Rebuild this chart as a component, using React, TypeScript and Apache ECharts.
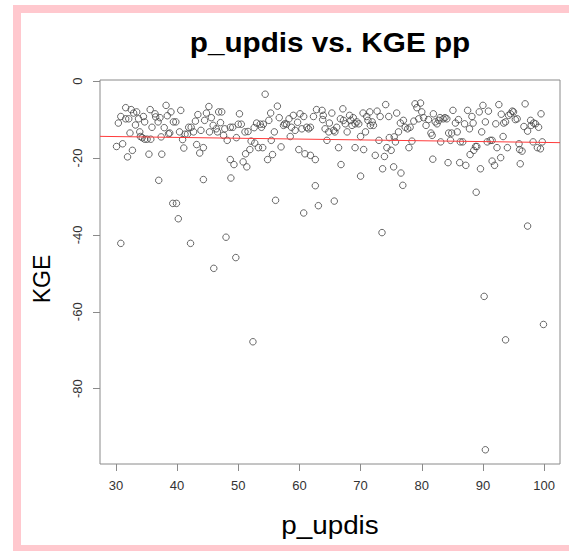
import React, { useEffect, useRef } from "react";
import * as echarts from "echarts";

// Axis ticks
const xTicks = [30, 40, 50, 60, 70, 80, 90, 100];
const yTicks = [0, -20, -40, -60, -80];

// Least-squares fit line end points (p_updis, KGE)
const fitLine = [
  [27.4, -14.36],
  [102.6, -16.0],
];

// Gauges with p_updis below ~63
const bandWest = [
  [30.4, -10.9], [30.8, -9.2], [30.1, -17.0], [31.1, -16.3], [31.6, -9.8], [32.1, -9.8], [31.6, -6.9],
  [32.3, -13.5], [31.9, -19.7], [32.7, -18.0], [32.5, -7.4], [32.9, -8.3], [33.4, -8.0], [33.2, -11.4],
  [33.7, -9.8], [33.9, -13.2], [34.0, -14.4], [34.5, -9.2], [34.7, -10.6], [34.3, -14.7], [34.7, -15.1],
  [35.1, -15.1], [35.4, -19.0], [35.6, -7.4], [35.7, -15.1], [35.9, -12.0], [36.4, -8.5], [36.5, -9.3],
  [36.9, -10.6], [37.2, -9.5], [37.4, -14.5], [37.5, -19.0], [37.9, -12.1], [38.2, -6.3], [38.4, -9.0],
  [38.6, -13.7], [38.8, -13.5], [39.0, -8.0], [39.4, -10.6], [39.8, -10.6], [40.4, -13.2], [40.6, -7.6],
  [40.9, -15.2], [41.1, -17.4], [41.3, -13.8], [41.7, -13.8], [41.9, -12.0], [42.3, -12.0], [42.7, -13.2],
  [43.0, -10.4], [43.2, -16.5], [43.4, -8.7], [43.7, -18.7], [43.9, -12.8], [44.3, -17.3], [44.5, -10.2],
  [44.8, -8.3], [45.2, -6.6], [45.3, -13.2], [45.6, -9.5], [45.9, -11.5], [46.4, -12.4], [46.6, -13.2],
  [46.8, -8.0], [47.3, -8.0], [47.1, -10.8], [47.6, -14.1], [47.8, -12.4], [48.2, -15.4], [48.7, -12.0],
  [48.7, -20.4], [49.1, -12.0], [49.3, -21.7], [49.7, -14.7], [50.0, -11.2], [50.2, -8.5], [50.5, -11.2],
  [50.8, -21.0], [51.1, -13.2], [51.2, -18.9], [51.4, -22.3], [51.6, -13.1], [51.9, -17.8], [52.1, -15.6],
  [52.6, -12.1], [52.7, -16.1], [53.0, -10.9], [53.3, -17.3], [53.6, -11.2], [53.8, -12.0], [54.0, -17.3],
  [54.1, -11.2], [54.8, -20.4], [55.0, -10.2], [55.3, -8.3], [55.4, -15.4], [55.6, -19.1], [55.9, -13.2],
  [56.4, -6.5], [56.7, -9.5], [57.0, -17.1], [57.4, -11.5], [57.6, -11.1], [57.9, -11.2], [58.3, -9.8],
  [58.5, -14.4], [58.7, -12.0], [59.0, -8.9], [59.3, -12.8], [59.7, -10.7], [59.9, -17.8], [60.1, -8.5],
  [60.4, -12.4], [60.7, -9.2], [60.9, -18.9], [61.2, -12.0], [61.5, -12.4], [61.8, -19.3], [61.8, -12.0],
  [62.3, -9.2], [62.6, -20.4], [62.8, -7.4],
];

// Gauges with p_updis above ~63
const bandEast = [
  [63.7, -7.6], [63.9, -8.9], [63.8, -10.0], [64.2, -12.4], [64.5, -15.4], [64.9, -10.9], [65.3, -8.3],
  [64.8, -13.2], [65.6, -12.8], [65.8, -13.2], [66.1, -12.0], [66.4, -17.3], [66.8, -21.7], [67.1, -7.2],
  [66.7, -9.8], [67.2, -10.2], [67.5, -11.1], [67.8, -13.2], [68.2, -8.9], [68.4, -10.2], [68.6, -11.5],
  [68.8, -9.5], [69.1, -17.3], [69.1, -11.1], [69.4, -10.6], [69.7, -11.1], [70.0, -14.4], [70.4, -8.3],
  [70.5, -17.8], [70.8, -13.2], [71.0, -9.2], [71.2, -10.2], [71.5, -8.0], [71.6, -11.5], [71.9, -10.6],
  [72.1, -11.5], [72.4, -19.3], [72.7, -7.8], [73.0, -15.4], [73.2, -9.2], [73.6, -22.8], [73.9, -19.6],
  [74.1, -6.1], [74.3, -17.3], [74.6, -9.2], [74.7, -14.7], [75.0, -18.0], [75.4, -22.3], [75.5, -14.5],
  [75.7, -15.8], [75.9, -8.3], [76.2, -13.2], [76.5, -10.9], [76.6, -23.9], [77.0, -10.2], [77.3, -12.0],
  [77.7, -12.4], [77.9, -17.3], [78.1, -12.0], [78.4, -15.6], [78.7, -10.4], [78.9, -5.9], [79.2, -6.9],
  [79.5, -9.8], [79.8, -5.7], [80.0, -8.0], [80.3, -9.5], [80.7, -11.5], [81.1, -10.0], [81.5, -13.5],
  [81.7, -14.1], [81.8, -20.3], [81.9, -8.5], [82.2, -10.6], [82.5, -11.1], [82.8, -10.2], [83.0, -9.5],
  [83.1, -15.8], [83.5, -9.8], [83.8, -9.5], [84.1, -9.8], [84.3, -21.2], [84.4, -13.5], [84.7, -15.4],
  [84.9, -13.5], [85.1, -7.6], [85.5, -10.9], [85.8, -13.2], [86.0, -10.0], [86.2, -21.2], [86.3, -15.8],
  [86.7, -15.8], [87.0, -11.1], [87.2, -21.9], [87.5, -7.6], [87.8, -12.4], [87.9, -19.1], [88.2, -9.2],
  [88.4, -10.9], [88.5, -18.0], [88.8, -17.0], [89.0, -17.0], [89.4, -8.0], [89.6, -22.8], [89.8, -13.2],
  [90.0, -6.3], [90.4, -10.6], [90.7, -15.8], [90.9, -7.8], [91.2, -15.4], [91.5, -15.4], [91.5, -20.8],
  [91.9, -21.9], [92.1, -11.1], [92.3, -17.3], [92.6, -6.1], [92.9, -19.9], [93.0, -8.6], [93.3, -14.4],
  [93.4, -10.9], [93.7, -10.6], [94.0, -17.3], [94.2, -8.9], [94.5, -8.5], [94.8, -7.8], [95.0, -8.0],
  [95.3, -10.0], [95.6, -9.8], [95.9, -16.3], [96.0, -17.8], [96.1, -21.5], [96.4, -18.2], [96.7, -11.8],
  [96.9, -5.9], [97.3, -13.0], [97.8, -10.2], [97.9, -11.5], [98.2, -15.8], [98.3, -10.9], [98.6, -11.1],
  [98.9, -17.3], [99.1, -12.0], [99.4, -17.6], [99.5, -8.5], [99.7, -15.8],
];

// Poorly performing gauges
const outliers = [
  [30.8, -42.2], [42.2, -42.2], [48.0, -40.6], [49.6, -45.9], [37.0, -25.8], [44.3, -25.6],
  [39.3, -31.8], [39.9, -31.8], [40.2, -35.8], [48.8, -25.2], [56.1, -31.0], [60.7, -34.3],
  [63.1, -32.4], [62.6, -27.2], [54.4, -3.4], [46.0, -48.7], [52.4, -67.8], [65.7, -31.2],
  [73.5, -39.4], [88.9, -28.9], [97.3, -37.7], [76.9, -27.1], [70.0, -24.7], [90.2, -56.0],
  [99.9, -63.3], [93.7, -67.3], [90.4, -95.9],
];

const FONT = "'Liberation Sans', Arial, Helvetica, sans-serif";
const BOX = "#8a8a8a";

export default function App() {
  const ref = useRef<HTMLDivElement>(null);

  useEffect(() => {
    const chart = echarts.init(ref.current!, null, { renderer: "svg" });
    const points = [...bandWest, ...bandEast, ...outliers];
    chart.setOption({
      animation: false,
      backgroundColor: "#ffffff",
      grid: {
        left: 100,
        top: 80,
        right: 9,
        bottom: 87,
        show: true,
        borderColor: BOX,
        borderWidth: 1,
        backgroundColor: "transparent",
      },
      xAxis: {
        type: "value",
        min: 27.4,
        max: 102.6,
        axisLine: { show: false, onZero: false },
        splitLine: { show: false },
        axisTick: {
          show: true,
          customValues: xTicks,
          length: 7,
          lineStyle: { color: BOX },
        },
        axisLabel: {
          customValues: xTicks,
          margin: 15,
          fontSize: 13,
          color: "#333",
          fontFamily: FONT,
        },
      },
      yAxis: {
        type: "value",
        min: -99.6,
        max: 0.3,
        axisLine: { show: false, onZero: false },
        splitLine: { show: false },
        axisTick: {
          show: true,
          customValues: yTicks,
          length: 7,
          lineStyle: { color: BOX },
        },
        axisLabel: {
          customValues: yTicks,
          rotate: 90,
          margin: 16,
          fontSize: 13,
          color: "#333",
          fontFamily: FONT,
        },
      },
      graphic: [
        {
          type: "rect",
          z: -10,
          silent: true,
          shape: { x: 17, y: 9, width: 1000, height: 540 },
          style: { fill: "none", stroke: "#ffc8ce", lineWidth: 8 },
        },
        {
          type: "text",
          x: 330,
          y: 42,
          scaleX: 1.1,
          style: {
            text: "p_updis vs. KGE pp",
            fill: "#000",
            font: `bold 27px ${FONT}`,
            textAlign: "center",
            textVerticalAlign: "middle",
          },
        },
        {
          type: "text",
          x: 330,
          y: 525,
          scaleX: 1.07,
          style: {
            text: "p_updis",
            fill: "#000",
            font: `26px ${FONT}`,
            textAlign: "center",
            textVerticalAlign: "middle",
          },
        },
        {
          type: "text",
          x: 42,
          y: 279,
          rotation: Math.PI / 2,
          style: {
            text: "KGE",
            fill: "#000",
            font: `23px ${FONT}`,
            textAlign: "center",
            textVerticalAlign: "middle",
          },
        },
      ],
      series: [
        {
          type: "scatter",
          data: points,
          symbol: "circle",
          symbolSize: 6.5,
          itemStyle: { color: "rgba(0,0,0,0)", borderColor: "#444", borderWidth: 1 },
          emphasis: { disabled: true },
        },
        {
          type: "line",
          data: fitLine,
          showSymbol: false,
          symbol: "none",
          z: 5,
          lineStyle: { color: "#ff3b3b", width: 1 },
          emphasis: { disabled: true },
        },
      ],
    });
    return () => chart.dispose();
  }, []);

  return (
    <div
      ref={ref}
      style={{ position: "fixed", left: 0, top: 0, width: 569, height: 551, background: "#fff" }}
    />
  );
}
